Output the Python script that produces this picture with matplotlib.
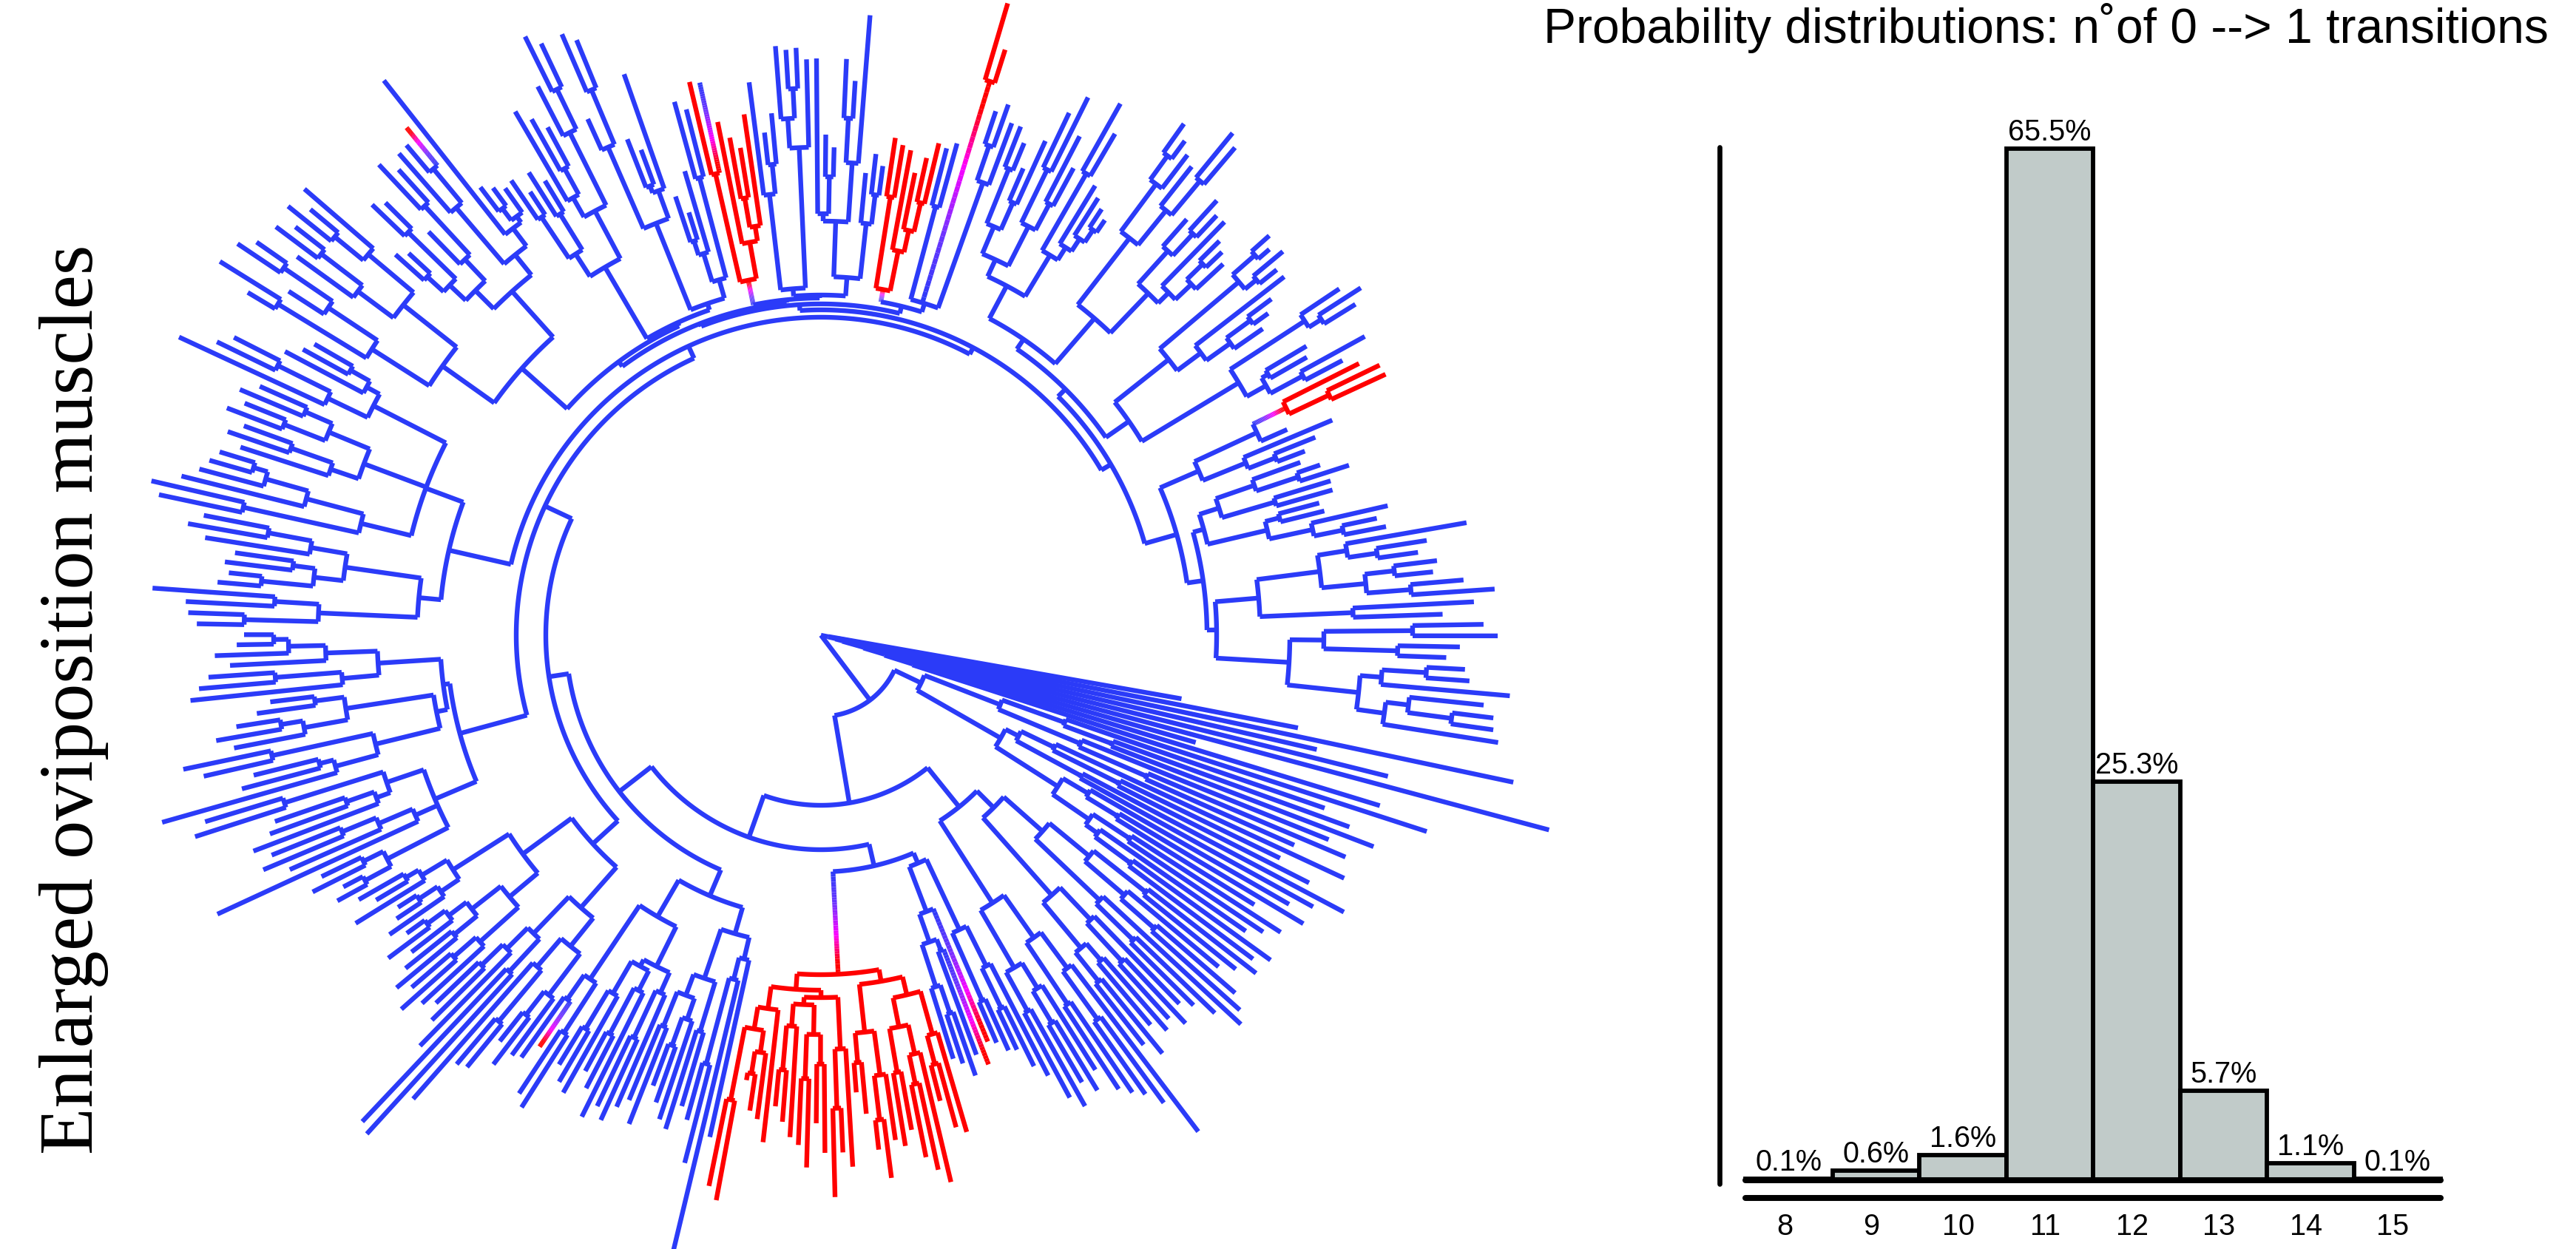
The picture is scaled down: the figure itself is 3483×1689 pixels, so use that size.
import numpy as np
import matplotlib
matplotlib.use('Agg')
import matplotlib.pyplot as plt
from matplotlib.collections import LineCollection
from matplotlib.colors import LinearSegmentedColormap, to_rgba

# ---------------- histogram data ----------------
bins = [8, 9, 10, 11, 12, 13, 14, 15]
probs = [0.1, 0.6, 1.6, 65.5, 25.3, 5.7, 1.1, 0.1]
prob_labels = ['0.1%', '0.6%', '1.6%', '65.5%', '25.3%', '5.7%', '1.1%', '0.1%']
title_text = 'Probability distributions: n˚of 0 --> 1 transitions'
ylabel_text = 'Enlarged oviposition muscles'

# ---------------- tree data (node radius in px; Q/P = blue->red, B = red->blue, clockwise order) ----
OG1 = "(495,((657,957)25,((688,790)35,(1019,(527,(790,861)130)90)60)30)20)10"
OG2 = "(((720,(760,800)420)350,(740,(770,700)480)380)260,(((780,(690,740)450)350,(800,760)400)300,((730,(760,690)470)420,((740,720)500,(700,(750,730)520)460)440)380)280)150"
S2A1 = "(((745,720)560,(700,(740,760)600)540)470,(774,(738,710)590)520)400"
S2A2 = "((695,(720,700)600)530,((710,690)580,(730,705)600)550)470"
S2B = "(((843,(784,760)640)560,(748,734)600)500,((695,(720,700)610)560,(730,710)580)520)430"
S3 = "(((670,(650,620)560)500,(616,600)540)440,(594Q,((623Q,605)456,((631,610)540,600)500)440)400)335"
S4 = "((((700,(690,650)600)560,((760,(740,720)620)580,(680,700)600)540)500,((690,(740,700)660)600,(650,620)580)540)475,(((720,(700,760)640)560,(((700,660)580,(720,690)600)540,(680,(660,640)590)530)500)490,(690,((660,(650,610)600)570,(777,760)640)540)510)480)459P"
S5 = "(((695,(864,(737,680)600)480)450,((664,700)560,((690,(670,650)590)550,(710,680)570)520)490)420,(((695,(720,705)600)530,((727,(690,670)610)540,(710,(700,680)620)560)510)500,((756,742)640,(674Q,700)600)560)440)383"
S6 = "((((705,(730,700)650)610,((755,761)680,835)590)540,((912,904)620,(776,(740,720)640)600)560)491,(((734,(760,730)660)620,((746,720)640,(700,(730,690)660)630)600)550,((710,(690,680)650)620,(740,(700,720)650)630)590)500)418"
S7 = "((((746,730)700,(770,750)690)660,(899,(785,(818,800)700)650)600,((821,(792,780)680)640,(889,870)760)620)567,((((926,(810,790)700)680,(856,881)760)620,((808,(830,800)740)710,(770,750)690)650)530,((857,(844,830)740)650,(800,(820,(790,780)740)720)670)600)515)506"
S8 = "((((844,856)780,(860,906)740)680,(((819,805)760,(812,800)720)690,(843,(869,850)760)700)650)546,(((915,929)800,(891,(870,(860,850)800)780)720)640,((825,(848,830)760)700,((860,840)780,(853,830)760)720)660,((957,(908,890)820)740,(820,(800,790)730)700)680)570)516"
S9 = "((((903,957)860,(857,(950,930)880)800)720,((874,(921,900)850)780,((925,899)850,923)800)720)628,((((772,760)720,(841,830)780)690,(761,(873,850)790)700)660,((866,(868,886Q)820)760,(955,((761,750)720,740)700)690)660)625)542"
S10 = "((((744,717)680,(740,719)670)613,((820,(800,780)720)680,(835,(903,885)820)760)650)577,(((766,(885,870)800)720,((720,700)650,804)640)600,(((625,599)560,654)540,(748,734)640)500)474)465"
S11 = "((769,765B)640,(708,((684,668)600,712)560)540)490P"
S12 = "(((754,(684,709)640)600,((799,(793,795)740)700,779)660)470,(((780,(677,660)620)570,((780,751)700,841)640)560,(628,(655,640)600)560)485)460"
S13 = "((680,672)600,(667,(638,(661,684)600)560)530)475P"
S14 = "((680,690)600,(891,830)783P,((747,761)700,739)650)470"
S15 = "((((((739,720)680,(688,734)640)600,((782,812)700,(760,718)660)620)560,((825,786)720,(712,(700,(690,680)660)640)620)600)535,((((848,830)800,817)760,(808,(878,865)800)740)680,((749,(795,780)740)700,(781,((758,750)720,740)690)660)640)566)485,((((812,800)780,(812,790)760)740,(792,((760,745)720,727)680)640)600,((843,(868,850)800)780,((764,757)700,(839,797)740)690)660)507)469"
S16 = "(((815,(839,841)760)700P,689)650,(750,(720,700)660)620)557"
S17 = "((((689,(713,750)680)620,(720,719)640)565,((697,701)640,(786,(768,778)720)680)620)537,((((886,(829,815)760)720,((839,832)780,(872,913)800)740)680,(884,841)720)594,(((896,915)800,(864,846)780)680,(((872,879)820,935)760,((901,(916,918)860)800,927)769)731)634)535)522"

TOP = ("((((" + S9 + "," + S10 + ")460,(" + S11 + "," + S12 + ")456)452,(" + S13 + "," + S14 + ")458)448,("
       + S15 + ",(" + S16 + "," + S17 + ")500)455)440")
RING = "(" + S5 + ",(" + S6 + ",(" + S7 + ",(" + S8 + "," + TOP + ")430)412)372)345"
S2 = "((" + S2A1 + "," + S2A2 + ")330," + S2B + ")298"
ING = "(" + S2 + ",((" + S3 + "," + S4 + ")320," + RING + ")290)230"
TREE = "(" + OG1 + ",(" + OG2 + "," + ING + ")110)0"

# ---------------- figure ----------------
W, H = 3483, 1690
DPI = 100
fig = plt.figure(figsize=(W / DPI, H / DPI), dpi=DPI)
fig.patch.set_facecolor('white')

BLUE = '#2b3bf8'
RED = '#ff0000'
MAG = '#ff00ff'
grad = LinearSegmentedColormap.from_list('g', [(0, BLUE), (0.3, '#6a35ff'), (0.62, MAG), (0.88, RED), (1.0, RED)])

CX, CY = 1110.0, 860.0
THETA0 = -10.0


def parse(s):
    s = s.replace(' ', '')
    pos = [0]

    def node():
        ch = []
        if s[pos[0]] == '(':
            pos[0] += 1
            ch.append(node())
            while s[pos[0]] == ',':
                pos[0] += 1
                ch.append(node())
            assert s[pos[0]] == ')', (pos[0], s[pos[0]-10:pos[0]+10])
            pos[0] += 1
        st = pos[0]
        while pos[0] < len(s) and (s[pos[0]].isdigit() or s[pos[0]] == '.'):
            pos[0] += 1
        r = float(s[st:pos[0]])
        fs = pos[0]
        while pos[0] < len(s) and s[pos[0]].isalpha():
            pos[0] += 1
        return {'r': r, 'f': s[fs:pos[0]], 'ch': ch}
    return node()


root = parse(TREE)
tips = []


def collect(n):
    if not n['ch']:
        tips.append(n)
    for c in n['ch']:
        collect(c)


collect(root)
NT = len(tips)
for i, t in enumerate(tips):
    t['a'] = THETA0 - i * 360.0 / NT


def set_angle(n):
    if n['ch']:
        for c in n['ch']:
            set_angle(c)
        n['a'] = 0.5 * (n['ch'][0]['a'] + n['ch'][-1]['a'])


set_angle(root)


def P(r, a):
    t = np.radians(a)
    return (CX + r * np.cos(t), CY - r * np.sin(t))


segs, cols = [], []


def radial(r0, r1, a, mode, red):
    if mode is None:
        segs.append([P(r0, a), P(r1, a)])
        cols.append(to_rgba(RED if red else BLUE))
    else:
        k = 40
        rs = np.linspace(r0, r1, k + 1)
        for j in range(k):
            tt = (j + 0.5) / k
            if mode == 'rev':
                tt = 1 - tt
            segs.append([P(rs[j], a), P(rs[j + 1], a)])
            cols.append(grad(tt))


def arc(r, a0, a1, red):
    n = max(2, int(abs(a1 - a0) / 0.4) + 2)
    aa = np.linspace(a0, a1, n)
    segs.append([P(r, x) for x in aa])
    cols.append(to_rgba(RED if red else BLUE))


def walk(n, pr, red):
    f = n['f']
    mode = None
    if 'B' in f:
        mode, nred = 'rev', False
    elif 'P' in f or 'Q' in f:
        mode, nred = 'fwd', True
    elif 'R' in f:
        nred = True
    else:
        nred = red
    if pr is not None:
        radial(pr, n['r'], n['a'], mode, nred)
    if n['ch']:
        arc(n['r'], n['ch'][0]['a'], n['ch'][-1]['a'], nred)
        for c in n['ch']:
            walk(c, n['r'], nred)


walk(root, None, False)

ax = fig.add_axes([0, 0, 1, 1])
ax.set_xlim(0, W)
ax.set_ylim(H, 0)
ax.axis('off')
lc = LineCollection(segs, colors=cols, linewidths=4.6, capstyle='butt', joinstyle='miter')
ax.add_collection(lc)

# y label
fig.text(100 / W, 1 - 946 / H, ylabel_text, rotation=90, ha='center', va='center',
         fontsize=75, family=['Liberation Serif', 'DejaVu Serif'])

# ---------------- histogram ----------------
X0, X1 = 2360, 3300
YB, YT = 1597, 202
ax2 = fig.add_axes([X0 / W, 1 - YB / H, (X1 - X0) / W, (YB - YT) / H])
ax2.set_xlim(7.5, 15.5)
ax2.set_ylim(0, 65.5)
ax2.axis('off')
ppx = (YB - YT) / 65.5
pxx = (X1 - X0) / 8.0
ax2.bar(bins, probs, width=1.0, color='#c1cbc9', edgecolor='black', linewidth=4.2, clip_on=False, zorder=2)
ax2.plot([7.5, 15.5], [0, 0], color='black', lw=5.8, solid_capstyle='round', clip_on=False, zorder=3)
ax2.plot([7.5, 15.5], [-24 / ppx, -24 / ppx], color='black', lw=5.8, solid_capstyle='round', clip_on=False, zorder=3)
yx = 7.5 - 35 / pxx
ax2.plot([yx, yx], [-5 / ppx, (YB - 200) / ppx], color='black', lw=4.8, solid_capstyle='round', clip_on=False)
for b, p, lab in zip(bins, probs, prob_labels):
    ax2.text(b, p + 12 / ppx, lab, ha='center', va='baseline', fontsize=28.5,
             family=['Liberation Sans', 'DejaVu Sans'], clip_on=False)
    ax2.text(b - 0.05, -73 / ppx, str(b), ha='center', va='baseline', fontsize=28.5,
             family=['Liberation Sans', 'DejaVu Sans'], clip_on=False)

fig.text(2766 / W, 1 - 58 / H, title_text, ha='center', va='baseline', fontsize=47.5,
         family=['Liberation Sans', 'DejaVu Sans'])

fig.savefig('out.png', dpi=DPI, facecolor='white')
